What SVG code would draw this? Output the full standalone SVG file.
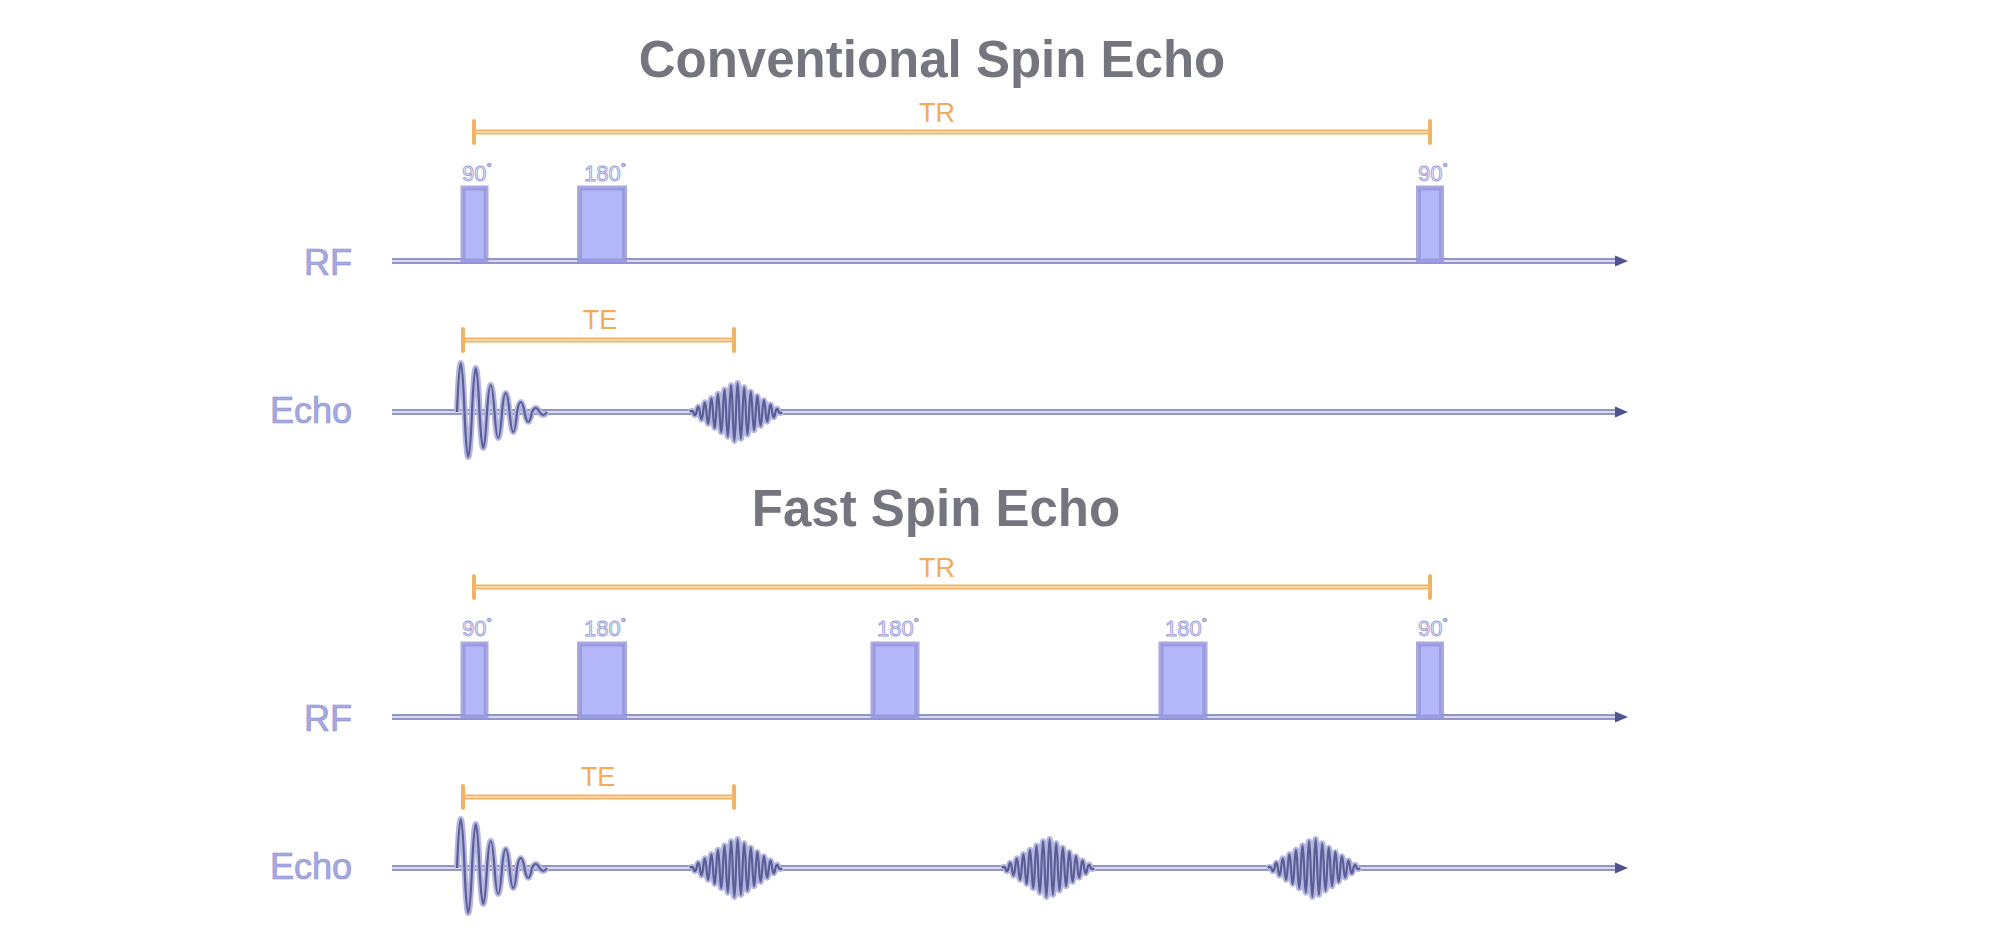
<svg xmlns="http://www.w3.org/2000/svg" width="2000" height="948" viewBox="0 0 2000 948">
<style>
.title{font-family:"Liberation Sans",Arial,sans-serif;font-weight:bold;font-size:51px;fill:#74757f;text-anchor:middle}
.axlbl{font-family:"Liberation Sans",Arial,sans-serif;font-size:36px;fill:#a6aae4;stroke:#8d91cf;stroke-width:0.7;text-anchor:end}
.deg{font-family:"Liberation Sans",Arial,sans-serif;font-size:22px;fill:#eef0ff;stroke:#9a9ed8;stroke-width:0.9}
.deg tspan{font-size:13px}
.tlbl{font-family:"Liberation Sans",Arial,sans-serif;font-size:27px;fill:#f2ab57;text-anchor:middle}
.pulse{fill:#b5b7fb;stroke:#9194d8;stroke-width:5;stroke-opacity:0.8}
.ax{stroke:#9295c6;stroke-width:6;fill:none}
.axin{stroke:#d8daf0;stroke-width:2;fill:none}
.tm{stroke:#f2b264;stroke-width:5;fill:none}
.tmin{stroke:#fde2bf;stroke-width:1.5;fill:none}
.cap{stroke:#f2b264;stroke-width:4;stroke-linecap:round}
.halo{fill:none;stroke:#b3b6df;stroke-width:6;stroke-linejoin:round}
.wave{fill:none;stroke:#5a5d96;stroke-width:2.2;stroke-linejoin:round}
.arrow{fill:#4f5390}
</style>
<defs>
<path id="fid" d="M0,0 Q3.75,-98 7.5,0 Q11.25,90 15,0 Q18.75,-88 22.5,0 Q26.25,72 30,0 Q33.75,-54 37.5,0 Q41.25,52 45,0 Q48.75,-38 52.5,0 Q56.25,40 60,0 Q63.75,-20 67.5,0 Q71.25,20 75,0 Q78.75,-8 82.5,0 Q86.25,6 90,0"/>
<path id="echo" d="M-46,0 Q-44.36,-2.1 -42.71,0 Q-41.07,6.4 -39.43,0 Q-37.79,-10.7 -36.14,0 Q-34.5,15 -32.86,0 Q-31.21,-19.3 -29.57,0 Q-27.93,23.6 -26.29,0 Q-24.64,-27.9 -23,0 Q-21.36,32.1 -19.71,0 Q-18.07,-36.4 -16.43,0 Q-14.79,40.7 -13.14,0 Q-11.5,-45 -9.86,0 Q-8.21,49.3 -6.57,0 Q-4.93,-53.6 -3.29,0 Q-1.64,57.9 0,0 Q1.64,-57.9 3.29,0 Q4.93,53.6 6.57,0 Q8.21,-49.3 9.86,0 Q11.5,45 13.14,0 Q14.79,-40.7 16.43,0 Q18.07,36.4 19.71,0 Q21.36,-32.1 23,0 Q24.64,27.9 26.29,0 Q27.93,-23.6 29.57,0 Q31.21,19.3 32.86,0 Q34.5,-15 36.14,0 Q37.79,10.7 39.43,0 Q41.07,-6.4 42.71,0 Q44.36,2.1 46,0"/>
</defs>
<rect width="2000" height="948" fill="#ffffff"/>

<g id="connectors">
  <line class="ax" x1="392" y1="261" x2="1618" y2="261"/>
  <line class="axin" x1="392" y1="261" x2="1616" y2="261"/>
  <polygon class="arrow" points="1615,255.5 1628,261 1615,266.5"/>
  <line class="ax" x1="392" y1="412" x2="1618" y2="412"/>
  <line class="axin" x1="392" y1="412" x2="1616" y2="412"/>
  <polygon class="arrow" points="1615,406.5 1628,412 1615,417.5"/>
  <line class="ax" x1="392" y1="717" x2="1618" y2="717"/>
  <line class="axin" x1="392" y1="717" x2="1616" y2="717"/>
  <polygon class="arrow" points="1615,711.5 1628,717 1615,722.5"/>
  <line class="ax" x1="392" y1="868" x2="1618" y2="868"/>
  <line class="axin" x1="392" y1="868" x2="1616" y2="868"/>
  <polygon class="arrow" points="1615,862.5 1628,868 1615,873.5"/>
  <g id="tr-top">
    <line class="tm" x1="474" y1="132" x2="1430" y2="132"/>
    <line class="tmin" x1="476" y1="132" x2="1428" y2="132"/>
    <line class="cap" x1="474" y1="121" x2="474" y2="143"/>
    <line class="cap" x1="1430" y1="121" x2="1430" y2="143"/>
  </g>
  <g id="te-top">
    <line class="tm" x1="463" y1="340" x2="734" y2="340"/>
    <line class="tmin" x1="465" y1="340" x2="732" y2="340"/>
    <line class="cap" x1="463" y1="329" x2="463" y2="351"/>
    <line class="cap" x1="734" y1="329" x2="734" y2="351"/>
  </g>
  <g id="tr-bottom">
    <line class="tm" x1="474" y1="587" x2="1430" y2="587"/>
    <line class="tmin" x1="476" y1="587" x2="1428" y2="587"/>
    <line class="cap" x1="474" y1="576" x2="474" y2="598"/>
    <line class="cap" x1="1430" y1="576" x2="1430" y2="598"/>
  </g>
  <g id="te-bottom">
    <line class="tm" x1="463" y1="797" x2="734" y2="797"/>
    <line class="tmin" x1="465" y1="797" x2="732" y2="797"/>
    <line class="cap" x1="463" y1="786" x2="463" y2="808"/>
    <line class="cap" x1="734" y1="786" x2="734" y2="808"/>
  </g>
</g>

<g id="title-conventional"><text class="title" x="932" y="77">Conventional Spin Echo</text></g>
<g id="label-tr-top"><text class="tlbl" x="937" y="122">TR</text></g>
<g id="label-te-top"><text class="tlbl" x="600" y="329">TE</text></g>
<g id="label-rf-top"><text class="axlbl" x="352" y="275">RF</text></g>
<g id="label-echo-top"><text class="axlbl" x="352" y="423">Echo</text></g>

<g id="pulse-top-90a">
  <rect class="pulse" x="463" y="188" width="23" height="73"/>
  <text class="deg" x="462" y="181">90<tspan dy="-9">°</tspan></text>
</g>
<g id="pulse-top-180">
  <rect class="pulse" x="579.5" y="188" width="45" height="73"/>
  <text class="deg" x="584" y="181">180<tspan dy="-9">°</tspan></text>
</g>
<g id="pulse-top-90b">
  <rect class="pulse" x="1418.5" y="188" width="23" height="73"/>
  <text class="deg" x="1418" y="181">90<tspan dy="-9">°</tspan></text>
</g>

<g id="fid-top">
  <use href="#fid" class="halo" transform="translate(457,412)"/>
  <use href="#fid" class="wave" transform="translate(457,412)"/>
</g>
<g id="echo-top-1">
  <use href="#echo" class="halo" transform="translate(736,412)"/>
  <use href="#echo" class="wave" transform="translate(736,412)"/>
</g>

<g id="title-fast"><text class="title" x="936" y="526">Fast Spin Echo</text></g>
<g id="label-tr-bottom"><text class="tlbl" x="937" y="577">TR</text></g>
<g id="label-te-bottom"><text class="tlbl" x="598" y="786">TE</text></g>
<g id="label-rf-bottom"><text class="axlbl" x="352" y="731">RF</text></g>
<g id="label-echo-bottom"><text class="axlbl" x="352" y="879">Echo</text></g>

<g id="pulse-bot-90a">
  <rect class="pulse" x="463" y="644" width="23" height="73"/>
  <text class="deg" x="462" y="636">90<tspan dy="-9">°</tspan></text>
</g>
<g id="pulse-bot-180a">
  <rect class="pulse" x="579.5" y="644" width="45" height="73"/>
  <text class="deg" x="584" y="636">180<tspan dy="-9">°</tspan></text>
</g>
<g id="pulse-bot-180b">
  <rect class="pulse" x="873" y="644" width="44" height="73"/>
  <text class="deg" x="877" y="636">180<tspan dy="-9">°</tspan></text>
</g>
<g id="pulse-bot-180c">
  <rect class="pulse" x="1161" y="644" width="44" height="73"/>
  <text class="deg" x="1165" y="636">180<tspan dy="-9">°</tspan></text>
</g>
<g id="pulse-bot-90b">
  <rect class="pulse" x="1418.5" y="644" width="23" height="73"/>
  <text class="deg" x="1418" y="636">90<tspan dy="-9">°</tspan></text>
</g>

<g id="fid-bottom">
  <use href="#fid" class="halo" transform="translate(457,868)"/>
  <use href="#fid" class="wave" transform="translate(457,868)"/>
</g>
<g id="echo-bot-1">
  <use href="#echo" class="halo" transform="translate(736,868)"/>
  <use href="#echo" class="wave" transform="translate(736,868)"/>
</g>
<g id="echo-bot-2">
  <use href="#echo" class="halo" transform="translate(1048,868)"/>
  <use href="#echo" class="wave" transform="translate(1048,868)"/>
</g>
<g id="echo-bot-3">
  <use href="#echo" class="halo" transform="translate(1314,868)"/>
  <use href="#echo" class="wave" transform="translate(1314,868)"/>
</g>
</svg>
